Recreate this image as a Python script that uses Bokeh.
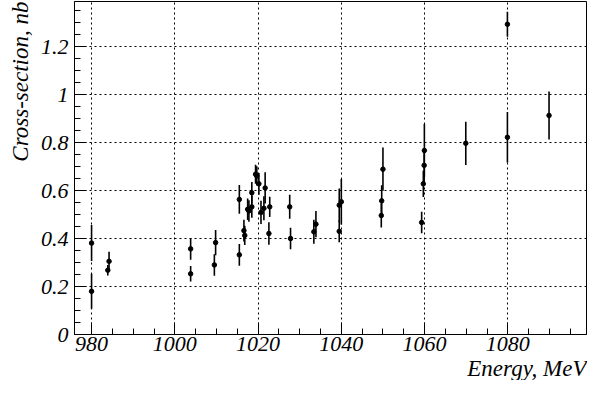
import math
from bokeh.plotting import figure
from bokeh.models import FixedTicker, Range1d, Title
from bokeh.embed import file_html
from bokeh.resources import INLINE

energy = [980, 980, 984.2, 983.9, 1003.8, 1003.8, 1009.8, 1009.5, 1015.5, 1015.5,
          1016.6, 1016.8, 1017.5, 1017.8, 1018.5, 1018.5, 1019.4, 1019.7, 1020.2, 1020.7,
          1021.4, 1021.7, 1022.8, 1022.6, 1027.6, 1027.8, 1033.4, 1033.9, 1039.5, 1039.5,
          1040.0, 1049.6, 1049.7, 1050.0, 1059.3, 1059.7, 1059.9, 1059.95, 1069.9, 1079.9,
          1079.9, 1089.9]
xsec = [0.381, 0.180, 0.305, 0.268, 0.357, 0.253, 0.383, 0.290, 0.563, 0.332,
        0.433, 0.413, 0.522, 0.515, 0.591, 0.532, 0.668, 0.661, 0.628, 0.509,
        0.526, 0.611, 0.532, 0.421, 0.532, 0.400, 0.428, 0.460, 0.539, 0.430,
        0.553, 0.496, 0.557, 0.689, 0.467, 0.628, 0.705, 0.767, 0.797, 0.822,
        1.293, 0.913]
err = [0.075, 0.073, 0.040, 0.022, 0.045, 0.032, 0.053, 0.045, 0.060, 0.045,
       0.045, 0.040, 0.045, 0.045, 0.045, 0.045, 0.040, 0.040, 0.045, 0.048,
       0.050, 0.065, 0.042, 0.047, 0.050, 0.045, 0.050, 0.055, 0.070, 0.045,
       0.095, 0.050, 0.065, 0.090, 0.045, 0.055, 0.070, 0.110, 0.090, 0.105,
       0.052, 0.100]

x_ticks = [980, 1000, 1020, 1040, 1060, 1080]
x_minor = [v for v in range(980, 1100, 5)]
y_ticks = [0, 0.2, 0.4, 0.6, 0.8, 1.0, 1.2]
y_tick_labels = ["0", "0.2", "0.4", "0.6", "0.8", "1", "1.2"]
y_minor = [round(i * 0.05, 2) for i in range(0, 28)]

FONT = "Liberation Serif"
W, H = 587, 380

p = figure(width=W, height=H, output_backend="svg", toolbar_location=None,
           x_range=Range1d(975.9, 1098.9), y_range=Range1d(0, 1.388),
           min_border_left=68, min_border_right=1, min_border_top=1, min_border_bottom=0)

p.outline_line_color = "black"
p.outline_line_width = 1
p.background_fill_color = "white"
p.border_fill_color = "white"

xa = p.xaxis[0]
ya = p.yaxis[0]
for ax in (xa, ya):
    ax.axis_line_color = "black"
    ax.axis_line_width = 1
    ax.major_tick_in = 12
    ax.major_tick_out = 0
    ax.minor_tick_in = 6
    ax.minor_tick_out = 0
    ax.major_tick_line_color = "black"
    ax.minor_tick_line_color = "black"
    ax.major_label_text_font = FONT
    ax.major_label_text_font_style = "italic"
    ax.major_label_text_font_size = "22px"
    ax.major_label_text_color = "black"

xa.ticker = FixedTicker(ticks=x_ticks, minor_ticks=x_minor)
ya.ticker = FixedTicker(ticks=y_ticks, minor_ticks=y_minor)
ya.major_label_overrides = {t: l for t, l in zip(y_ticks, y_tick_labels)}
xa.major_label_standoff = 2
ya.major_label_standoff = 6

# grid
for g in (p.xgrid[0], p.ygrid[0]):
    g.grid_line_color = "black"
    g.grid_line_dash = "2 3"
    g.grid_line_width = 1
    g.grid_line_alpha = 1.0

# data
lo = [v - e for v, e in zip(xsec, err)]
hi = [v + e for v, e in zip(xsec, err)]
p.segment(x0=energy, y0=lo, x1=energy, y1=hi, line_color="black", line_width=1.6)
p.scatter(x=energy, y=xsec, marker="circle", size=4.5, fill_color="black", line_color="black")

# axis titles as side-panel titles
p.add_layout(Title(text="Energy, MeV", align="right", standoff=0, offset=0,
                   text_font=FONT, text_font_style="italic", text_font_size="23px",
                   text_color="black"), "below")
p.add_layout(Title(text="Cross-section, nb", align="right", standoff=10, offset=0,
                   text_font=FONT, text_font_style="italic", text_font_size="23px",
                   text_color="black"), "left")

open("out.html", "w").write(file_html(p, INLINE))
